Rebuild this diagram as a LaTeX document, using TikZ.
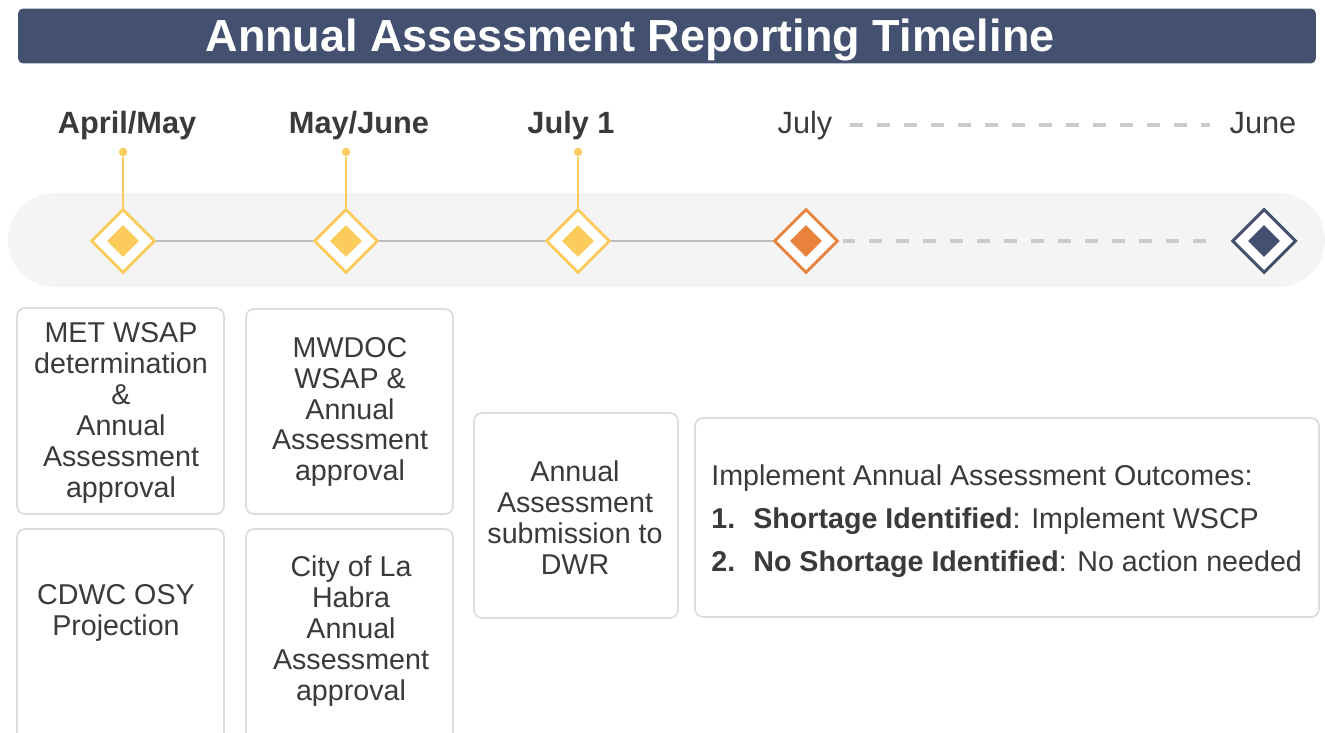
\documentclass[tikz,border=0pt]{standalone}
\usepackage{fontspec}
\setmainfont{Liberation Sans}
\usetikzlibrary{shapes.geometric}
\definecolor{navy}{HTML}{435070}
\definecolor{gold}{HTML}{FBCB5C}
\definecolor{tangerine}{HTML}{E9823A}
\definecolor{inkgray}{HTML}{3A3A3A}
\definecolor{linegray}{HTML}{BDBDBD}
\definecolor{dashgray}{HTML}{CBCBCB}
\definecolor{bandgray}{HTML}{F4F4F4}
\definecolor{edgegray}{HTML}{DCDCDC}
\tikzset{
  outerdia/.style={diamond, draw, fill=white, line width=1.7pt, inner sep=0pt,
    minimum width=1.28cm, minimum height=1.28cm},
  innerdia/.style={diamond, inner sep=0pt, minimum width=0.64cm, minimum height=0.64cm},
  stemdot/.style={circle, fill=gold, inner sep=0pt, minimum size=0.17cm},
  datebold/.style={font=\fontsize{17.5}{20}\selectfont\bfseries, text=inkgray,
    text height=1.3ex, text depth=0.3ex, inner sep=0pt},
  dateplain/.style={datebold, font=\fontsize{17.5}{20}\selectfont},
  card/.style={draw=edgegray, line width=1pt, fill=white, rounded corners=0.16cm, inner sep=0pt},
  cardtext/.style={align=center, text=inkgray, font=\fontsize{16.3}{17.6}\selectfont},
  dashline/.style={dashgray, line width=2pt, dash pattern=on 0.26cm off 0.28cm},
}
\begin{document}
\begin{tikzpicture}[x=0.02cm, y=-0.02cm]
\newcommand\milestone[3]{
\node[outerdia, draw=#3] (#1) at (#2,241) {};
\node[innerdia, fill=#3] (#1in) at (#2,241) {};
}
\useasboundingbox (0,0) rectangle (1325,733);
\clip (0,0) rectangle (1325,733);
\node[fill=navy, rounded corners=0.1cm, minimum width=25.96cm, minimum height=1.1cm, inner sep=0pt] (bar) at (667,36) {};
\node[text=white, font=\fontsize{25.6}{28}\selectfont\bfseries] (title) at (630,40) {Annual Assessment Reporting Timeline};

\node[datebold] (l1) at (127,129) {April/May};
\node[datebold] (l2) at (359,129) {May/June};
\node[datebold] (l3) at (571,129) {July 1};
\node[dateplain] (l4) at (805,129) {July};
\node[dateplain] (l5) at (1263,129) {June};
\draw[dashline] ([xshift=0.34cm,yshift=0.08cm]l4.east) -- ([xshift=-0.38cm,yshift=0.08cm]l5.west);

\fill[bandgray, rounded corners=0.94cm] (8,193) rectangle (1325,287);

\milestone{d1}{123}{gold}
\milestone{d2}{346}{gold}
\milestone{d3}{578}{gold}
\milestone{d4}{806}{tangerine}
\milestone{d5}{1264}{navy}
\node[stemdot] (s1) at (123,152) {};
\node[stemdot] (s2) at (346,152) {};
\node[stemdot] (s3) at (578,152) {};
\draw[gold, line width=1pt] (s1) -- (d1);
\draw[gold, line width=1pt] (s2) -- (d2);
\draw[gold, line width=1pt] (s3) -- (d3);
\draw[linegray, line width=1.7pt] (d1) -- (d2);
\draw[linegray, line width=1.7pt] (d2) -- (d3);
\draw[linegray, line width=1.7pt] (d3) -- (d4);
\draw[dashline, shorten <=0.06cm, shorten >=0.3cm] (d4) -- (d5);

\node[card, minimum width=4.14cm, minimum height=4.12cm] (b1) at (120.5,411) {};
\node[card, minimum width=4.14cm, minimum height=4.1cm] (b2) at (349.5,411.5) {};
\node[card, minimum width=4.14cm, minimum height=4.32cm] (b3) at (120.5,637) {};
\node[card, minimum width=4.14cm, minimum height=4.32cm] (b4) at (349.5,637) {};
\node[card, minimum width=4.08cm, minimum height=4.1cm] (b5) at (576,515.5) {};
\node[card, minimum width=12.48cm, minimum height=3.98cm] (b6) at (1007,517.5) {};

\node[cardtext] (t1) at (121,413) {MET WSAP\\determination\\\&\\Annual\\Assessment\\approval};
\node[cardtext] (t2) at (350,412) {MWDOC\\WSAP \&\\Annual\\Assessment\\approval};
\node[cardtext] (t3) at (116,613) {CDWC OSY\\Projection};
\node[cardtext] (t4) at (351,631) {City of La\\Habra\\Annual\\Assessment\\approval};
\node[cardtext] (t5) at (575,518) {Annual\\Assessment\\submission to\\DWR};
\node[cardtext, align=left, anchor=west, inner sep=0pt, font=\fontsize{16.3}{24.4}\selectfont] (t6) at (711,521)
  {Implement Annual Assessment Outcomes:\\
   \makebox[0.84cm][l]{\textbf{1.}}\textbf{Shortage Identified}: Implement WSCP\\
   \makebox[0.84cm][l]{\textbf{2.}}\textbf{No Shortage Identified}: No action needed};
\end{tikzpicture}
\end{document}
